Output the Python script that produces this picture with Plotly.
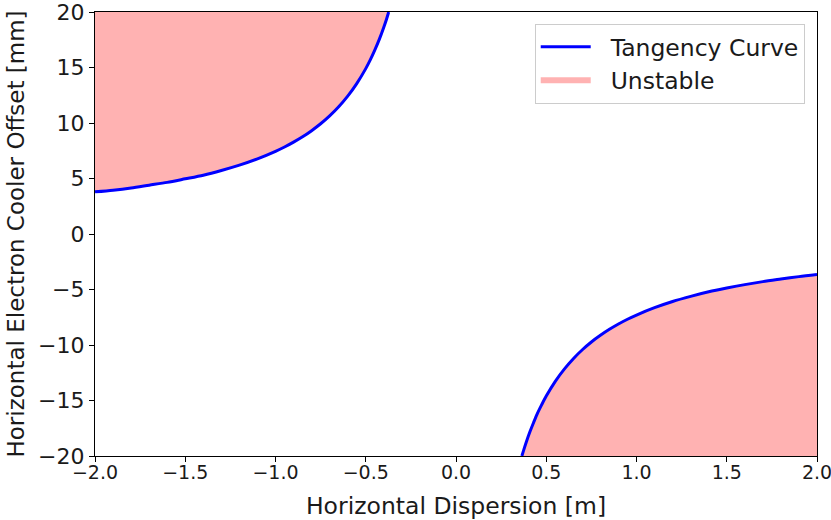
import plotly.graph_objects as go

# Tangency curve readings (upper-left branch)
left_x = [-2.0, -1.9, -1.8, -1.7, -1.6, -1.5, -1.4, -1.3, -1.2, -1.1, -1.0, -0.95, -0.9, -0.85,
          -0.8, -0.75, -0.7, -0.65, -0.6, -0.55, -0.5, -0.475, -0.45, -0.425, -0.4, -0.385, -0.373]
left_y = [3.8, 3.95, 4.15, 4.4, 4.65, 4.97, 5.3, 5.72, 6.2, 6.77, 7.45, 7.84, 8.28, 8.76,
          9.31, 9.93, 10.64, 11.46, 12.42, 13.55, 14.9, 15.68, 16.56, 17.53, 18.63, 19.35, 20.0]

# Tangency curve readings (lower-right branch)
right_x = [0.365, 0.375, 0.39, 0.41, 0.43, 0.45, 0.475, 0.5, 0.55, 0.6, 0.65, 0.7, 0.75, 0.8,
           0.85, 0.9, 0.95, 1.0, 1.1, 1.2, 1.3, 1.4, 1.5, 1.6, 1.7, 1.8, 1.9, 2.0]
right_y = [-20.0, -19.47, -18.72, -17.8, -16.98, -16.2, -15.37, -14.6, -13.27, -12.17, -11.23,
           -10.43, -9.73, -9.13, -8.59, -8.11, -7.68, -7.3, -6.64, -6.08, -5.62, -5.21, -4.87,
           -4.56, -4.29, -4.06, -3.84, -3.65]

x_ticks = [-2.0, -1.5, -1.0, -0.5, 0.0, 0.5, 1.0, 1.5, 2.0]
y_ticks = [-20, -15, -10, -5, 0, 5, 10, 15, 20]

def fmt(v, d):
    s = f"{v:.{d}f}"
    return s.replace("-", "\u2212")

FILL = "rgba(255,0,0,0.3)"
BLUE = "#0000ff"
FONT = "DejaVu Sans"
TXT = "#1a1a1a"
PAD = "\u00a0\u00a0"

fig = go.Figure()

# Unstable regions
fig.add_trace(go.Scatter(
    x=left_x + [left_x[0]], y=left_y + [y_ticks[-1]],
    fill="toself", fillcolor=FILL, mode="none",
    name=PAD + "Unstable", legendrank=2, showlegend=True, hoverinfo="skip"))
fig.add_trace(go.Scatter(
    x=right_x + [right_x[-1]], y=right_y + [y_ticks[0]],
    fill="toself", fillcolor=FILL, mode="none",
    name=PAD + "Unstable", showlegend=False, hoverinfo="skip"))

# Tangency curve
fig.add_trace(go.Scatter(
    x=left_x, y=left_y, mode="lines", line=dict(color=BLUE, width=3, shape="spline", smoothing=0.8),
    name=PAD + "Tangency Curve", legendrank=1))
fig.add_trace(go.Scatter(
    x=right_x, y=right_y, mode="lines", line=dict(color=BLUE, width=3, shape="spline", smoothing=0.8),
    name=PAD + "Tangency Curve", showlegend=False))

axis_common = dict(
    showline=True, linecolor="black", linewidth=1.2, mirror=True,
    ticks="outside", ticklen=5, tickwidth=1.2, tickcolor="black",
    showgrid=False, zeroline=False, automargin=False, ticklabeloverflow="allow",
)

fig.update_layout(
    width=831, height=520,
    margin=dict(l=95, r=14, t=12, b=64),
    plot_bgcolor="white", paper_bgcolor="white",
    font=dict(family=FONT, size=20, color=TXT),
    xaxis=dict(range=[-2, 2], tickvals=x_ticks, ticktext=[fmt(v, 1) for v in x_ticks],
               tickfont=dict(family=FONT, size=19, color=TXT), ticklabelstandoff=-6,
               title=dict(text="Horizontal Dispersion [m]", font=dict(family=FONT, size=23.5, color=TXT), standoff=18),
               **axis_common),
    yaxis=dict(range=[-20, 20], tickvals=y_ticks, ticktext=[fmt(v, 0) for v in y_ticks],
               tickfont=dict(family=FONT, size=22, color=TXT),
               title=dict(text="Horizontal Electron Cooler Offset [mm]", font=dict(family=FONT, size=23, color=TXT), standoff=7),
               **axis_common),
    legend=dict(x=0.983, y=0.973, xanchor="right", yanchor="top",
                bgcolor="rgba(255,255,255,0.8)", bordercolor="#cccccc", borderwidth=1,
                font=dict(family=FONT, size=23.5, color=TXT),
                itemwidth=50, tracegroupgap=2),
    showlegend=True,
)

# remove the default 8px page margin so the figure fills the window exactly
fig.write_html("out.html", config={"displayModeBar": False},
               post_script="document.body.style.margin='0';")
